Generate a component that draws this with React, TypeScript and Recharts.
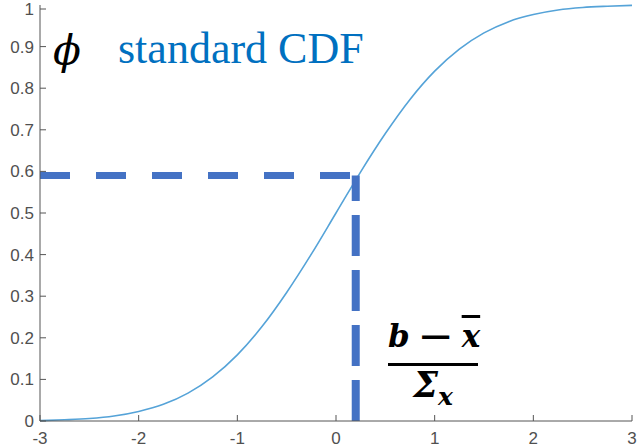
import { LineChart, Line, XAxis, YAxis, ReferenceLine } from "recharts";

// standard normal CDF, sampled every 0.25
const xValues = [
  -3, -2.75, -2.5, -2.25, -2, -1.75, -1.5, -1.25, -1, -0.75, -0.5, -0.25, 0,
  0.25, 0.5, 0.75, 1, 1.25, 1.5, 1.75, 2, 2.25, 2.5, 2.75, 3,
];
const cdfValues = [
  0.001, 0.003, 0.006, 0.012, 0.023, 0.04, 0.067, 0.106, 0.159, 0.227, 0.309,
  0.401, 0.5, 0.599, 0.691, 0.773, 0.841, 0.894, 0.933, 0.96, 0.977, 0.988,
  0.994, 0.997, 0.999,
];
const xTicks = [-3, -2, -1, 0, 1, 2, 3];
const yTicks = [0, 0.1, 0.2, 0.3, 0.4, 0.5, 0.6, 0.7, 0.8, 0.9, 1];

// the (b - x̄)/Σx point and its probability
const crossX = 0.2;
const crossY = 0.59;

const data = xValues.map((x, i) => ({ x, cdf: cdfValues[i] }));

const AXIS_COLOR = "#555555";
const LABEL_COLOR = "#505050";
const TICK_FONT = "'Liberation Sans', Arial, sans-serif";
const DASH_COLOR = "#4472C4";
const TICK_LEN = 6;

function BottomTick({ x, y, payload }: any) {
  return (
    <g>
      <line x1={x} y1={y} x2={x} y2={y - TICK_LEN} stroke={AXIS_COLOR} />
      <text x={x} y={y + 23} textAnchor="middle" fill={LABEL_COLOR} fontSize={17} fontFamily={TICK_FONT}>
        {payload.value}
      </text>
    </g>
  );
}

function LeftTick({ x, y, payload }: any) {
  return (
    <g>
      <line x1={x} y1={y} x2={x + TICK_LEN} y2={y} stroke={AXIS_COLOR} />
      <text x={x - 6} y={y + 6} textAnchor="end" fill={LABEL_COLOR} fontSize={17} fontFamily={TICK_FONT}>
        {payload.value}
      </text>
    </g>
  );
}

function TopTick({ x, y }: any) {
  return <line x1={x} y1={y} x2={x} y2={y + TICK_LEN} stroke={AXIS_COLOR} />;
}

function RightTick({ x, y }: any) {
  return <line x1={x} y1={y} x2={x - TICK_LEN} y2={y} stroke={AXIS_COLOR} />;
}

export default function App() {
  return (
    <div style={{ position: "absolute", left: 0, top: 0, width: 641, height: 447, background: "#fff" }}>
      <LineChart width={641} height={447} data={data} margin={{ top: 5, right: 9, bottom: 0, left: 0 }}>
        <XAxis
          dataKey="x"
          type="number"
          domain={[-3, 3]}
          ticks={xTicks}
          height={26}
          tickSize={0}
          tickMargin={0}
          tickLine={false}
          stroke={AXIS_COLOR}
          tick={<BottomTick />}
        />
        <XAxis
          xAxisId="top"
          orientation="top"
          dataKey="x"
          type="number"
          domain={[-3, 3]}
          ticks={xTicks}
          height={0}
          tickSize={0}
          tickMargin={0}
          tickLine={false}
          stroke={AXIS_COLOR}
          tick={<TopTick />}
        />
        <YAxis
          type="number"
          domain={[0, 1]}
          ticks={yTicks}
          width={40}
          tickSize={0}
          tickMargin={0}
          tickLine={false}
          stroke={AXIS_COLOR}
          tick={<LeftTick />}
        />
        <YAxis
          yAxisId="right"
          orientation="right"
          type="number"
          domain={[0, 1]}
          ticks={yTicks}
          width={0}
          tickSize={0}
          tickMargin={0}
          tickLine={false}
          stroke={AXIS_COLOR}
          tick={<RightTick />}
        />
        <Line
          type="monotone"
          dataKey="cdf"
          stroke="#55A3D8"
          strokeWidth={1.6}
          dot={false}
          isAnimationActive={false}
        />
        <ReferenceLine
          segment={[
            { x: -3, y: crossY },
            { x: crossX, y: crossY },
          ]}
          stroke={DASH_COLOR}
          strokeWidth={7}
          strokeDasharray="30 26"
        />
        <ReferenceLine
          segment={[
            { x: crossX, y: 0 },
            { x: crossX, y: crossY },
          ]}
          stroke={DASH_COLOR}
          strokeWidth={8}
          strokeDasharray="41 14"
        />
      </LineChart>

      <div
        style={{
          position: "absolute",
          left: 53,
          top: 30,
          fontFamily: "'DejaVu Serif', serif",
          fontStyle: "italic",
          fontSize: 41,
          lineHeight: "40px",
          color: "#000",
        }}
      >
        ϕ
      </div>
      <div
        style={{
          position: "absolute",
          left: 118,
          top: 27,
          fontFamily: "'Liberation Serif', serif",
          fontSize: 44,
          lineHeight: "43px",
          color: "#0070C0",
          whiteSpace: "nowrap",
        }}
      >
        standard CDF
      </div>

      {/* (b − x̄) / Σx */}
      <div
        style={{
          position: "absolute",
          left: 388,
          top: 318,
          width: 90,
          textAlign: "center",
          fontFamily: "'DejaVu Serif', serif",
          fontStyle: "italic",
          fontWeight: "bold",
          fontSize: 31,
          color: "#000",
          whiteSpace: "nowrap",
        }}
      >
        <div style={{ lineHeight: "36px", borderBottom: "3.5px solid #000", paddingBottom: 9 }}>
          b
          <span style={{ display: "inline-block", transform: "scaleX(1.4)", margin: "0 13px" }}>−</span>
          <span style={{ textDecoration: "overline" }}>x</span>
        </div>
        <div style={{ lineHeight: "32px", marginTop: 3, fontSize: 35 }}>
          Σ<span style={{ fontSize: 25, position: "relative", top: 8 }}>x</span>
        </div>
      </div>
    </div>
  );
}
